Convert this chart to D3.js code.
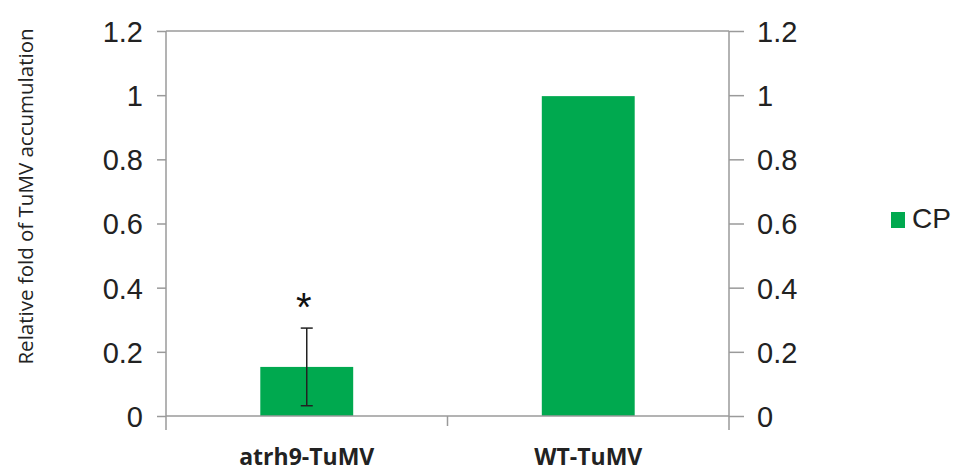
<!DOCTYPE html>
<html><head><meta charset="utf-8">
<script src="https://cdn.jsdelivr.net/npm/d3@7"></script>
<style>body{margin:0;background:#fff}</style>
</head><body>
<svg id="c" width="956" height="473"></svg>
<script>
const categories = ["atrh9-TuMV", "WT-TuMV"];
const cpValues = [0.153, 0.997];
const cpErrors = [0.121, 0];
const significance = ["*", ""];
const yTicks = [0, 0.2, 0.4, 0.6, 0.8, 1, 1.2];
const tickLabels = ["0", "0.2", "0.4", "0.6", "0.8", "1", "1.2"];
const seriesName = "CP";

const svg = d3.select("#c");
const L = 166, R = 729, T = 31, B = 416;
const green = "#00a94f", axisColor = "#9a9a9a";

const x = d3.scaleBand().domain(categories).range([L, R]).padding(0);
const y = d3.scaleLinear().domain([0, 1.2]).range([B, T]);
const barW = x.bandwidth() * 0.33;

// bars
svg.selectAll("rect.bar").data(categories).join("rect")
  .attr("x", (d) => x(d) + x.bandwidth()/2 - barW/2)
  .attr("y", (d,i) => y(cpValues[i]))
  .attr("width", barW)
  .attr("height", (d,i) => y(0) - y(cpValues[i]))
  .attr("fill", green);

// error bars
categories.forEach((c, i) => {
  if (!cpErrors[i]) return;
  const cx = x(c) + x.bandwidth()/2;
  const g = svg.append("g").attr("stroke", "#222").attr("stroke-width", 1.5);
  g.append("line").attr("x1", cx).attr("x2", cx).attr("y1", y(cpValues[i]+cpErrors[i])).attr("y2", y(cpValues[i]-cpErrors[i]));
  [cpValues[i]+cpErrors[i], cpValues[i]-cpErrors[i]].forEach(v => {
    g.append("line").attr("x1", cx-6).attr("x2", cx+6).attr("y1", y(v)).attr("y2", y(v));
  });
  if (significance[i]) {
    svg.append("text").attr("x", cx - 3).attr("y", y(cpValues[i]+cpErrors[i]) - 7)
      .attr("text-anchor", "middle").attr("font-family", "Liberation Sans, Arial, sans-serif")
      .attr("font-size", 40).attr("fill", "#111").text(significance[i]);
  }
});

const fmt = (d) => tickLabels[yTicks.indexOf(d)];
// left axis
const la = svg.append("g").attr("transform", `translate(${L},0)`)
  .call(d3.axisLeft(y).tickValues(yTicks).tickFormat(fmt).tickSize(9).tickPadding(14));
// right axis
const ra = svg.append("g").attr("transform", `translate(${R},0)`)
  .call(d3.axisRight(y).tickValues(yTicks).tickFormat(fmt).tickSize(15).tickPadding(13));
[la, ra].forEach(a => {
  a.select(".domain").remove();
  a.selectAll(".tick line").attr("stroke", axisColor).attr("stroke-width", 1.5);
  a.selectAll(".tick text").attr("font-family", "Liberation Sans, Arial, sans-serif")
    .attr("font-size", 29).attr("fill", "#222").attr("dy", "0.36em");
});
// vertical axis lines
[L, R].forEach(px => {
  svg.append("line").attr("x1", px).attr("x2", px).attr("y1", T).attr("y2", B + 14)
    .attr("stroke", axisColor).attr("stroke-width", 1.5);
});
// top border
svg.append("line").attr("x1", L).attr("x2", R).attr("y1", T).attr("y2", T)
  .attr("stroke", axisColor).attr("stroke-width", 1.5);
// bottom axis
const xa = svg.append("g").attr("transform", `translate(0,${B})`)
  .call(d3.axisBottom(x).tickSize(0).tickPadding(34));
xa.select(".domain").remove();
svg.append("line").attr("x1", L).attr("x2", R).attr("y1", B).attr("y2", B)
  .attr("stroke", axisColor).attr("stroke-width", 1.5);
// category boundary ticks
svg.append("line").attr("x1", x(categories[1])).attr("x2", x(categories[1])).attr("y1", B).attr("y2", B + 10)
  .attr("stroke", axisColor).attr("stroke-width", 1.5);
xa.selectAll(".tick text").attr("font-family", "Open Sans, sans-serif").attr("font-weight", "bold")
  .attr("font-size", 23).attr("fill", "#222").attr("dy", null).attr("y", 49);

// y title
svg.append("text").attr("transform", `translate(33,${(T+362)/2}) rotate(-90)`)
  .attr("text-anchor", "middle").attr("font-family", "Open Sans, sans-serif")
  .attr("font-size", 20.5).attr("fill", "#222").text("Relative fold of TuMV accumulation");

// legend
svg.append("rect").attr("x", 891).attr("y", 212).attr("width", 14).attr("height", 16).attr("fill", green);
svg.append("text").attr("x", 912).attr("y", 228).attr("font-family", "Liberation Sans, Arial, sans-serif")
  .attr("font-size", 28).attr("fill", "#222").text(seriesName);
</script>
</body></html>
